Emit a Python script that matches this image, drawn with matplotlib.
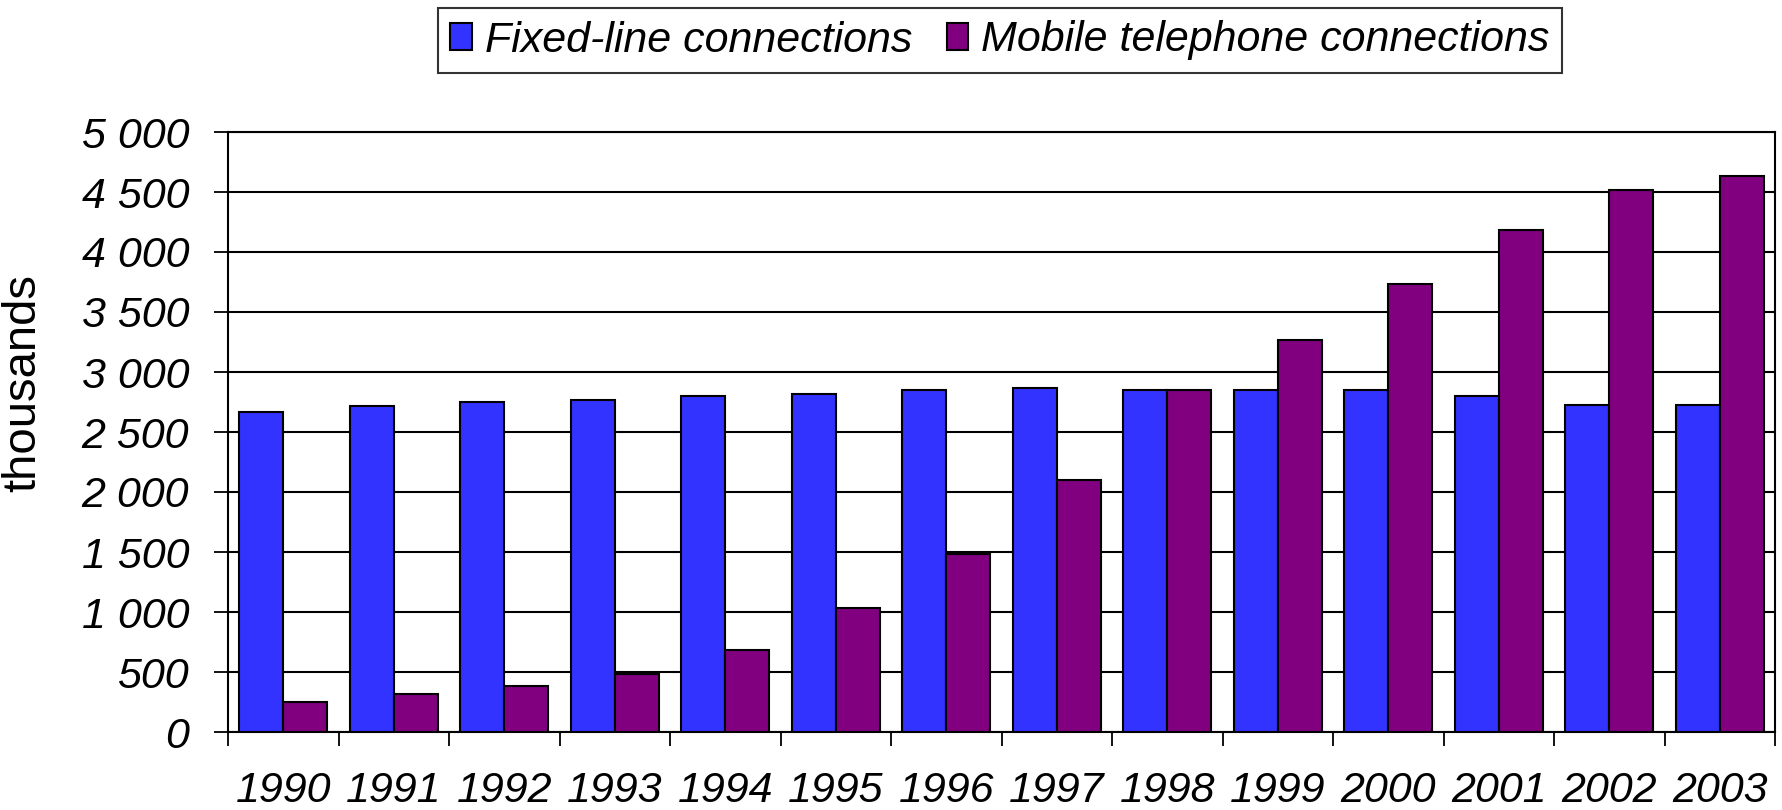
import matplotlib
matplotlib.use("Agg")
import matplotlib.pyplot as plt
import numpy as np

years = ["1990", "1991", "1992", "1993", "1994", "1995", "1996",
         "1997", "1998", "1999", "2000", "2001", "2002", "2003"]
fixed_line = [2665, 2717, 2750, 2767, 2800, 2817, 2853,
              2867, 2853, 2850, 2853, 2797, 2728, 2728]
mobile = [250, 317, 383, 486, 683, 1030, 1483,
          2100, 2853, 3267, 3733, 4186, 4517, 4633]
y_ticks = [0, 500, 1000, 1500, 2000, 2500, 3000, 3500, 4000, 4500, 5000]
y_tick_labels = ["0", "500", "1 000", "1 500", "2 000", "2 500", "3 000",
                 "3 500", "4 000", "4 500", "5 000"]

plt.rcParams["font.family"] = ["Liberation Sans", "DejaVu Sans"]

fig = plt.figure(figsize=(17.82, 8.10), dpi=100)
ax = fig.add_axes([228 / 1782, 1 - 732 / 810, 1547 / 1782, 600 / 810])

x = np.arange(len(years))
width = 0.4
ax.bar(x - width / 2, fixed_line, width, color="#3333FF", edgecolor="black",
       linewidth=1.5, label="Fixed-line connections", zorder=3)
ax.bar(x + width / 2, mobile, width, color="#800080", edgecolor="black",
       linewidth=1.5, label="Mobile telephone connections", zorder=3)

ax.set_xlim(-0.5, len(years) - 0.5)
ax.set_ylim(0, 5000)

# category boundaries get the tick marks, labels sit at the centres
ax.set_xticks(np.arange(-0.5, len(years)), labels=[])
ax.set_xticks(x, labels=years, minor=True)
ax.tick_params(axis="x", which="major", length=10, width=1.3, direction="out")
ax.tick_params(axis="x", which="minor", length=0, pad=28, labelsize=31)
for lab in ax.get_xticklabels(minor=True):
    lab.set_style("italic")

ax.set_yticks(y_ticks, labels=y_tick_labels)
ax.tick_params(axis="y", length=10, width=1.3, pad=18, labelsize=31)
for lab in ax.get_yticklabels():
    lab.set_style("italic")

ax.grid(axis="y", color="black", linewidth=1.5, zorder=0)
ax.set_axisbelow(True)
for spine in ax.spines.values():
    spine.set_linewidth(1.5)
    spine.set_color("black")

fig.text(23 / 1782, 1 - 383 / 810, "thousands", rotation=90, fontsize=34,
         ha="center", va="center")

leg = fig.legend(loc="center", bbox_to_anchor=(1000 / 1782, 1 - 40.5 / 810),
                 ncol=2, prop={"style": "italic", "size": 31},
                 frameon=True, fancybox=False, edgecolor="black",
                 handlelength=0.5, handleheight=0.6, handletextpad=0.3,
                 columnspacing=0.8, borderpad=0.3, borderaxespad=0)
leg.get_frame().set_linewidth(1.5)

fig.savefig("out.png", dpi=100)
